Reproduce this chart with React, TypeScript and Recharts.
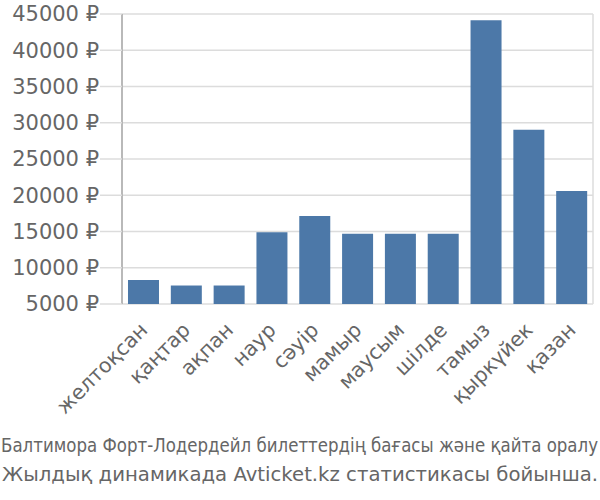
import { BarChart, Bar, XAxis, YAxis, CartesianGrid } from 'recharts';

const months = ['желтоқсан', 'қаңтар', 'ақпан', 'наур', 'сәуір', 'мамыр', 'маусым', 'шілде', 'тамыз', 'қыркүйек', 'қазан'];
const prices = [8300, 7550, 7550, 14900, 17150, 14700, 14700, 14700, 44150, 29050, 20600];
const priceTicks = [5000, 10000, 15000, 20000, 25000, 30000, 35000, 40000, 45000];
const bandEdges = [0, 1, 2, 3, 4, 5, 6, 7, 8, 9, 10, 11];
const titleLines = [
  'Балтимора Форт-Лодердейл билеттердің бағасы және қайта оралу',
  'Жылдық динамикада Avticket.kz статистикасы бойынша.',
];

const data = months.map((month, i) => ({ month, price: prices[i] }));

const FONT = '"DejaVu Sans", "Liberation Sans", sans-serif';

function MonthTick(props: any) {
  const { x, y, payload } = props;
  const ax = x + 1;
  const ay = y + 2;
  return (
    <text
      x={ax}
      y={ay}
      dy="0.3em"
      transform={`rotate(-45, ${ax}, ${ay})`}
      textAnchor="end"
      fill="#666"
      fontSize={20.5}
      fontFamily={FONT}
    >
      {payload.value}
    </text>
  );
}

export default function App() {
  return (
    <div style={{ position: 'absolute', left: 0, top: 0, width: 600, height: 500, background: '#fff' }}>
      <BarChart
        width={600}
        height={430}
        data={data}
        margin={{ top: 14, right: 7, left: 0, bottom: 0 }}
        barCategoryGap="14%"
      >
        <CartesianGrid xAxisId="grid" stroke="#dcdcdc" strokeWidth={1.5} />
        <XAxis
          xAxisId="grid"
          type="number"
          domain={[0, 11]}
          ticks={bandEdges}
          allowDataOverflow
          height={0}
          tick={false}
          axisLine={false}
          tickSize={19}
          tickLine={{ stroke: '#dcdcdc', strokeWidth: 1.5 }}
        />
        <XAxis
          xAxisId="cat"
          dataKey="month"
          height={126}
          interval={0}
          axisLine={false}
          tickLine={false}
          tickSize={19}
          tick={<MonthTick />}
        />
        <YAxis
          width={122}
          domain={[5000, 45000]}
          ticks={priceTicks}
          tickFormatter={(v: number) => `${v} ₽`}
          tickSize={22}
          tickMargin={1}
          axisLine={{ stroke: '#aaa', strokeWidth: 1.5 }}
          tickLine={{ stroke: '#dcdcdc', strokeWidth: 1.5 }}
          tick={{ fill: '#666', fontSize: 21, fontFamily: FONT }}
        />
        <Bar xAxisId="cat" dataKey="price" fill="#4c78a8" isAnimationActive={false} />
      </BarChart>
      <svg width={600} height={70} style={{ position: 'absolute', left: 0, top: 430 }}>
        <text x={1} y={22} textLength={597} lengthAdjust="spacingAndGlyphs" fill="#666" fontSize={20} fontFamily={FONT}>
          {titleLines[0]}
        </text>
        <text x={2} y={51} textLength={596} lengthAdjust="spacingAndGlyphs" fill="#666" fontSize={20} fontFamily={FONT}>
          {titleLines[1]}
        </text>
      </svg>
    </div>
  );
}
